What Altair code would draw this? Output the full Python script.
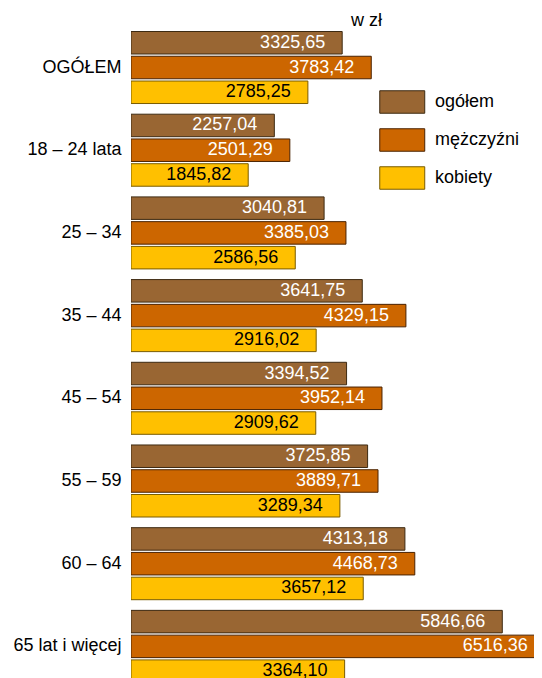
import altair as alt
import pandas as pd

categories = ["OGÓŁEM", "18 – 24 lata", "25 – 34", "35 – 44", "45 – 54",
              "55 – 59", "60 – 64", "65 lat i więcej"]
series = ["ogółem", "mężczyźni", "kobiety"]
ogolem = [3325.65, 2257.04, 3040.81, 3641.75, 3394.52, 3725.85, 4313.18, 5846.66]
mezczyzni = [3783.42, 2501.29, 3385.03, 4329.15, 3952.14, 3889.71, 4468.73, 6516.36]
kobiety = [2785.25, 1845.82, 2586.56, 2916.02, 2909.62, 3289.34, 3657.12, 3364.10]

fills = ["#996633", "#CC6600", "#FFC000"]
strokes = ["#3d2a12", "#4a2200", "#7a5c00"]

rows = []
for s, vals in zip(series, [ogolem, mezczyzni, kobiety]):
    for c, v in zip(categories, vals):
        rows.append({"cat": c, "series": s, "value": v,
                     "label": f"{v:.2f}".replace(".", ",")})
df = pd.DataFrame(rows)

FONT = "Liberation Sans"

y_enc = alt.Y("cat:N", sort=categories,
              scale=alt.Scale(range=[3.5, 654.4], paddingInner=0.129, paddingOuter=0),
              axis=alt.Axis(title=None, ticks=False, domain=False, grid=False,
                            labelFontSize=18, labelFont=FONT, labelColor="black",
                            labelPadding=10))
yoff = alt.YOffset("series:N", sort=series,
                   scale=alt.Scale(paddingInner=0.091, paddingOuter=0))
x_enc = alt.X("value:Q", scale=alt.Scale(domain=[0, 6346], nice=False, zero=True),
              axis=None)

base = alt.Chart(df).encode(y=y_enc, yOffset=yoff, x=x_enc)

bars = base.mark_bar(clip=True, strokeWidth=1).encode(
    color=alt.Color("series:N", sort=series,
                    scale=alt.Scale(domain=series, range=fills),
                    legend=alt.Legend(title=None, orient="none", legendX=248,
                                      legendY=62, labelFontSize=18, labelFont=FONT,
                                      labelColor="black",
                                      symbolType="M-1,-1H3V1H-1Z",
                                      symbolSize=506, symbolStrokeColor="#3d2a12",
                                      symbolStrokeWidth=1, symbolOpacity=1,
                                      labelOffset=32, rowPadding=10, padding=0)),
    stroke=alt.Stroke("series:N", sort=series,
                      scale=alt.Scale(domain=series, range=strokes), legend=None),
)

labels = base.mark_text(align="right", baseline="middle", dx=-17, fontSize=18,
                        font=FONT).encode(
    text="label:N",
    color=alt.condition(alt.datum.series == "kobiety", alt.value("black"),
                        alt.value("white")),
)

chart = alt.layer(bars, labels).properties(
    width=403, height=670,
    padding={"left": 123, "top": 20, "right": 0, "bottom": 0},
    autosize=alt.AutoSizeParams(type="none"),
    title=alt.TitleParams(text="w zł", anchor="start", frame="group", dx=220, dy=18,
                          fontSize=18, fontWeight="normal", font=FONT,
                          color="black", baseline="alphabetic", offset=2),
).configure_view(stroke=None)

chart.save("out.html", embed_options={"renderer": "svg", "actions": False})
